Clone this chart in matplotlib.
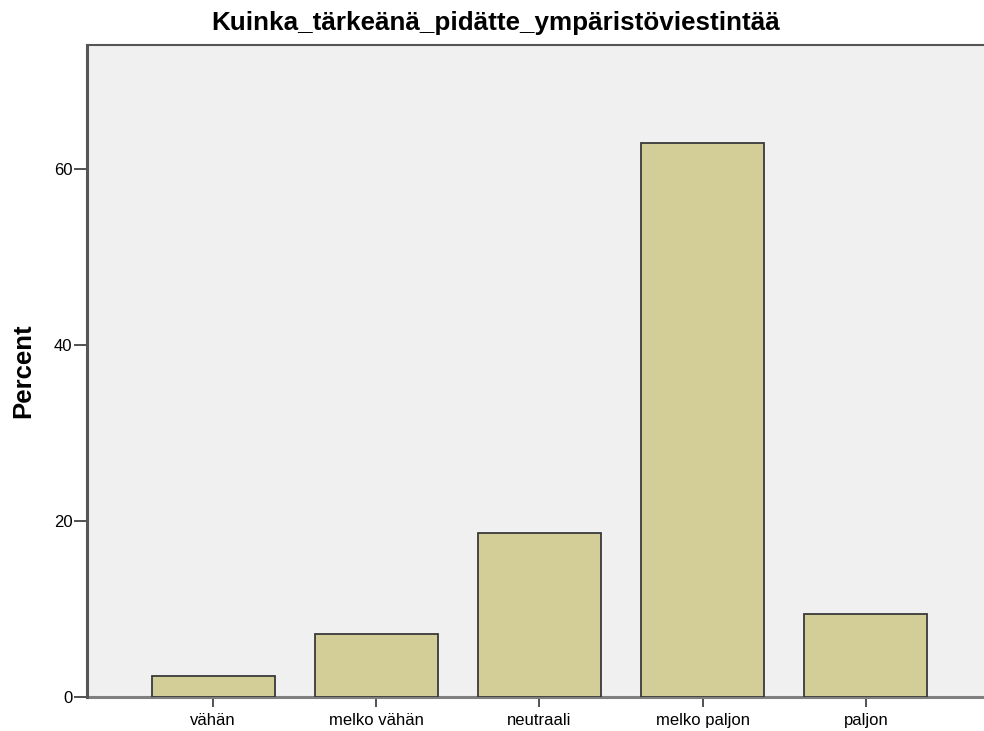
import matplotlib
matplotlib.use("Agg")
import matplotlib.pyplot as plt

categories = ["vähän", "melko vähän", "neutraali", "melko paljon", "paljon"]
percent = [2.4, 7.2, 18.6, 63.0, 9.4]
yticks = [0, 20, 40, 60]

plt.rcParams['font.family'] = ['Liberation Sans', 'DejaVu Sans']

W, H = 984, 731
fig = plt.figure(figsize=(W/100, H/100), dpi=100)
left, right, top, bottom = 87, 984, 45, 697
ax = fig.add_axes([left/W, 1 - bottom/H, (right-left)/W, (bottom-top)/H])
ax.set_facecolor('#f0f0f0')

x = list(range(len(categories)))
ax.bar(x, percent, width=0.755, color='#d3ce97', edgecolor='#3a3a3a', linewidth=1.3, zorder=3)

ax.set_xlim(-0.773, 4.724)
ax.set_ylim(0, 74.1)
ax.set_xticks(x)
ax.set_xticklabels(categories, fontsize=12)
ax.set_yticks(yticks)
ax.set_yticklabels([str(v) for v in yticks], fontsize=12)
ax.tick_params(axis='y', direction='out', length=9.5, width=1.2, color='#333333', pad=1)
ax.tick_params(axis='x', direction='out', length=7.5, width=1.2, color='#333333', pad=4)

for s in ['top', 'right']:
    ax.spines[s].set_visible(False)
ax.spines['left'].set_color('#555555')
ax.spines['left'].set_linewidth(2.2)
ax.spines['bottom'].set_color('#808080')
ax.spines['bottom'].set_linewidth(2.2)
ax.spines['bottom'].set_zorder(2)
ax.axhline(74.1, color='#555555', lw=1.5, clip_on=False)

ax.set_ylabel('Percent', fontsize=18.5, fontweight='bold', labelpad=13)
ax.set_title('Kuinka_tärkeänä_pidätte_ympäristöviestintää', fontsize=18.7, fontweight='bold',
             pad=11, x=(496-87)/(984-87))

fig.savefig('out.png', dpi=100)
